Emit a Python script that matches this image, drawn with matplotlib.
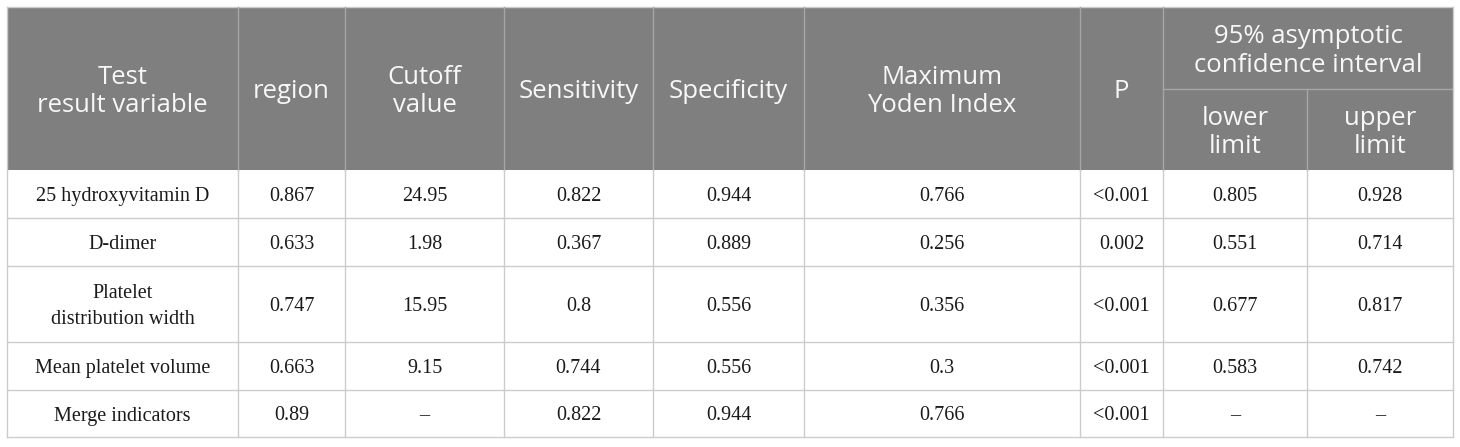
import matplotlib.pyplot as plt
from matplotlib.patches import Rectangle

# table content
headers = ["Test\nresult variable", "region", "Cutoff\nvalue", "Sensitivity",
           "Specificity", "Maximum\nYoden Index", "P"]
group_header = "95% asymptotic\nconfidence interval"
sub_headers = ["lower\nlimit", "upper\nlimit"]

variables = ["25 hydroxyvitamin D", "D-dimer", "Platelet\ndistribution width",
             "Mean platelet volume", "Merge indicators"]
region = ["0.867", "0.633", "0.747", "0.663", "0.89"]
cutoff = ["24.95", "1.98", "15.95", "9.15", "\u2013"]
sensitivity = ["0.822", "0.367", "0.8", "0.744", "0.822"]
specificity = ["0.944", "0.889", "0.556", "0.556", "0.944"]
yoden = ["0.766", "0.256", "0.356", "0.3", "0.766"]
p_value = ["<0.001", "0.002", "<0.001", "<0.001", "<0.001"]
lower = ["0.805", "0.551", "0.677", "0.583", "\u2013"]
upper = ["0.928", "0.714", "0.817", "0.742", "\u2013"]

# layout in pixels
W, H = 1460, 447
xcols = [7, 238, 345, 504, 653, 804, 1080, 1163, 1307, 1453]
y_top, y_mid, y_head = 7, 89, 170
yrows = [170, 218, 266, 342, 390, 437]
dy_head, dy_body = 3, 2.5   # nudge text down to optical centre

head_bg = "#7f7f7f"
head_line = "#a6a6a6"
grid = "#cccccc"
txt = "#1a1a1a"

fig = plt.figure(figsize=(W / 100, H / 100), dpi=100)
ax = fig.add_axes([0, 0, 1, 1])
ax.set_xlim(0, W)
ax.set_ylim(H, 0)
ax.axis("off")

# header background
ax.add_patch(Rectangle((xcols[0], y_top), xcols[-1] - xcols[0], y_head - y_top,
                       facecolor=head_bg, edgecolor="none"))

hfont = dict(family="Open Sans", size=18.5, color="#f7f7f7", ha="center",
             va="center", linespacing=1.17)
for i, h in enumerate(headers):
    ax.text((xcols[i] + xcols[i + 1]) / 2, (y_top + y_head) / 2 + dy_head, h, **hfont)
ax.text((xcols[7] + xcols[9]) / 2, (y_top + y_mid) / 2 + dy_head, group_header, **hfont)
for j, h in enumerate(sub_headers):
    ax.text((xcols[7 + j] + xcols[8 + j]) / 2, (y_mid + y_head) / 2 + dy_head, h, **hfont)

# body
columns = [variables, region, cutoff, sensitivity, specificity, yoden,
           p_value, lower, upper]
bfont = dict(family="Liberation Serif", size=14.5, color=txt, ha="center",
             va="center", linespacing=1.45)
for c, col in enumerate(columns):
    for r, val in enumerate(col):
        ax.text((xcols[c] + xcols[c + 1]) / 2,
                (yrows[r] + yrows[r + 1]) / 2 + dy_body, val, **bfont)

# grid lines
lw = 1.0
for y in yrows[1:]:
    ax.plot([xcols[0], xcols[-1]], [y, y], color=grid, lw=lw)
ax.plot([xcols[0], xcols[-1]], [y_top, y_top], color=grid, lw=lw)
ax.plot([xcols[7], xcols[-1]], [y_mid, y_mid], color=head_line, lw=lw)
for i, x in enumerate(xcols):
    y0 = y_mid if i == 8 else y_top
    ax.plot([x, x], [y0, y_head], color=head_line if 0 < i < 9 else grid, lw=lw)
    ax.plot([x, x], [y_head, yrows[-1]], color=grid, lw=lw)

fig.savefig("out.png", dpi=100)
